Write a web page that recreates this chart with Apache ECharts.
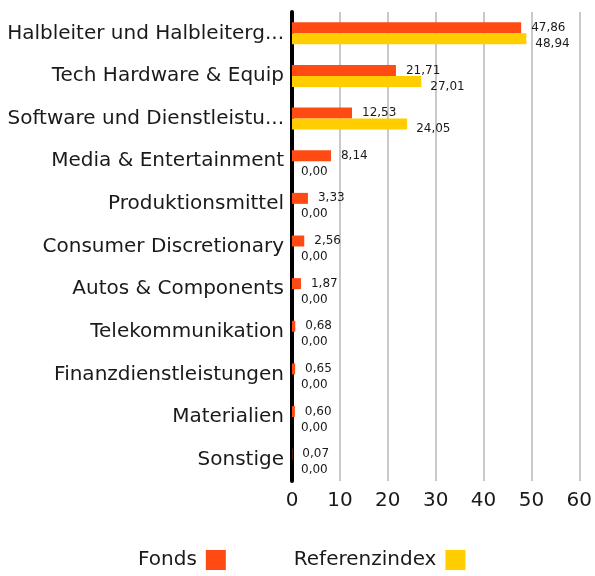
<!DOCTYPE html>
<html>
<head>
<meta charset="utf-8">
<script src="https://cdn.jsdelivr.net/npm/echarts@6/dist/echarts.min.js"></script>
<style>
  html, body { margin: 0; padding: 0; background: #fff; }
  #chart { width: 595px; height: 576px; }
</style>
</head>
<body>
<div id="chart"></div>
<script>
  // data
  const categories = [
    "Halbleiter und Halbleiterg...", "Tech Hardware & Equip", "Software und Dienstleistu...",
    "Media & Entertainment", "Produktionsmittel", "Consumer Discretionary",
    "Autos & Components", "Telekommunikation", "Finanzdienstleistungen",
    "Materialien", "Sonstige"
  ];
  const fonds = [47.86, 21.71, 12.53, 8.14, 3.33, 2.56, 1.87, 0.68, 0.65, 0.60, 0.07];
  const referenz = [48.94, 27.01, 24.05, 0, 0, 0, 0, 0, 0, 0, 0];
  const xTicks = [0, 10, 20, 30, 40, 50, 60];

  const C = { fonds: "#ff4a14", ref: "#ffcd00", text: "#1a1a1a", grid: "#c9c9c9" };
  const FONT = "DejaVu Sans";
  const fmt = (v) => v.toFixed(2).replace(".", ",");

  const chart = echarts.init(document.getElementById("chart"), null, { renderer: "canvas" });
  chart.setOption({
    animation: false,
    grid: { left: 292, right: 12, top: 12, bottom: 95, containLabel: false },
    legend: {
      bottom: 1, left: 133, align: "right",
      itemWidth: 20, itemHeight: 20, itemGap: 68,
      icon: "rect",
      textStyle: { color: C.text, fontFamily: FONT, fontSize: 20, padding: [0, 4, 0, 0] },
      data: ["Fonds", "Referenzindex"]
    },
    xAxis: {
      type: "value", min: xTicks[0], max: xTicks[xTicks.length - 1], interval: 10,
      axisLine: { show: false }, axisTick: { show: false },
      axisLabel: { color: C.text, fontFamily: FONT, fontSize: 20, margin: 10 },
      splitLine: { lineStyle: { color: C.grid, width: 2 } }
    },
    yAxis: {
      type: "category", data: categories, inverse: true,
      axisLine: { lineStyle: { color: "#000", width: 4 } },
      axisTick: { show: false },
      axisLabel: { color: C.text, fontFamily: FONT, fontSize: 20, margin: 8 }
    },
    series: [
      {
        name: "Fonds", type: "bar", data: fonds, barWidth: 11, barGap: "0%",
        itemStyle: { color: C.fonds },
        label: { show: true, position: "right", distance: 10, color: C.text, fontFamily: FONT, fontSize: 12,
          formatter: (p) => fmt(p.value) }
      },
      {
        name: "Referenzindex", type: "bar", data: referenz, barWidth: 11,
        itemStyle: { color: C.ref },
        label: { show: true, position: "right", distance: 9, offset: [0, 5], color: C.text, fontFamily: FONT, fontSize: 12,
          formatter: (p) => fmt(p.value) }
      }
    ]
  });
</script>
</body>
</html>
